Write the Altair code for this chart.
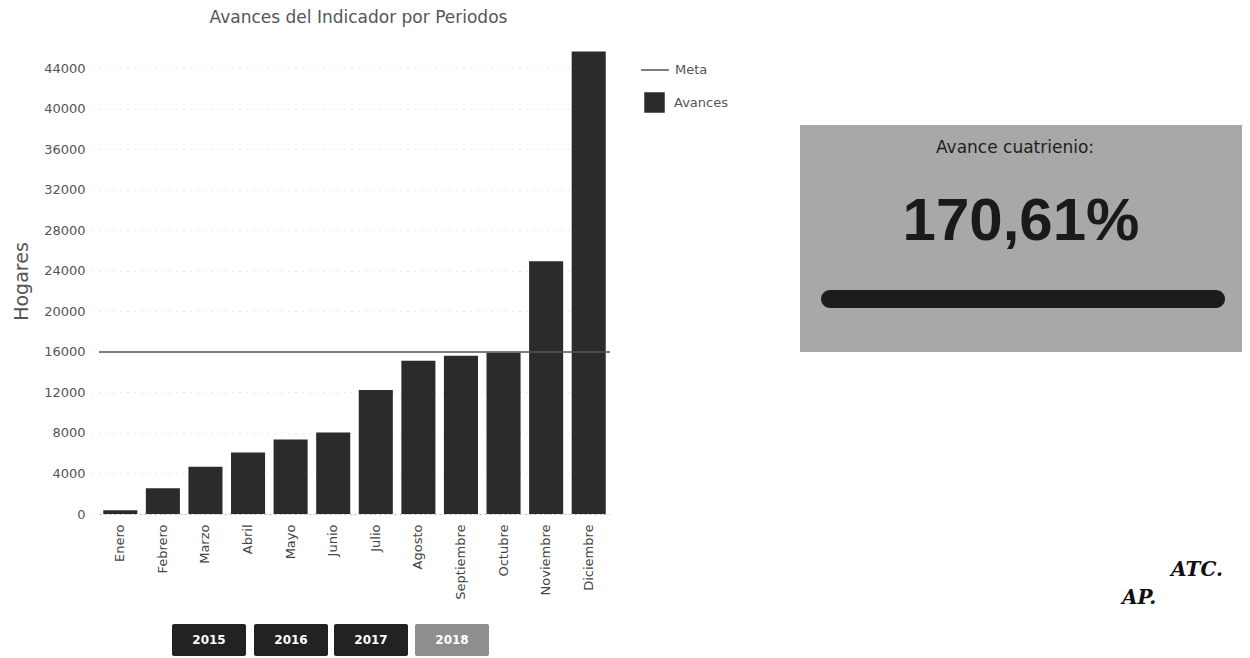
import altair as alt
import pandas as pd

# ---- data ----
meses = ["Enero", "Febrero", "Marzo", "Abril", "Mayo", "Junio", "Julio",
         "Agosto", "Septiembre", "Octubre", "Noviembre", "Diciembre"]
avances = [380, 2530, 4660, 6080, 7360, 8050, 12230, 15120, 15610, 15910, 24950, 45660]
meta = 16000
y_ticks = [0, 4000, 8000, 12000, 16000, 20000, 24000, 28000, 32000, 36000, 40000, 44000]
anios = ["2015", "2016", "2017", "2018"]
anio_activo = "2018"
panel_titulo = "Avance cuatrienio:"
panel_valor = "170,61%"
panel_pct = 170.61
firmas = ["ATC.", "AP."]

# ---- tables ----
df = pd.DataFrame({"Mes": meses, "Valor": avances, "Serie": ["Avances"] * len(meses)})
df_meta = pd.DataFrame({"Valor": [meta], "Serie": ["Meta"]})
df_panel = pd.DataFrame({"titulo": [panel_titulo], "valor": [panel_valor], "pct": [panel_pct]})

FONT = "DejaVu Sans"
W, H = 511, 466

x_enc = alt.X("Mes:N", sort=meses,
              scale=alt.Scale(paddingInner=0.2, paddingOuter=0.1),
              axis=alt.Axis(title=None, labelAngle=-90, labelFont=FONT, labelFontSize=13,
                            labelColor="#444", ticks=False, labelPadding=10,
                            domain=True, domainColor="#bbbbbb", domainDash=[2, 3]))
y_enc = alt.Y("Valor:Q", scale=alt.Scale(domain=[0, 46000], nice=False),
              axis=alt.Axis(values=y_ticks, format="d", grid=True, gridColor="#d2d2d2",
                            gridDash=[1, 6], domain=False, ticks=False, labelPadding=14,
                            labelFont=FONT, labelFontSize=13, labelColor="#555",
                            title="Hogares", titleFont=FONT, titleFontSize=19,
                            titleFontWeight="normal", titleColor="#555", titlePadding=12))

bars = alt.Chart(df).mark_bar().encode(
    x=x_enc, y=y_enc,
    color=alt.Color("Serie:N", scale=alt.Scale(domain=["Avances"], range=["#2b2b2b"]),
                    legend=alt.Legend(title=None, orient="none", legendX=545, legendY=44,
                                      padding=0, symbolType="square", symbolSize=420,
                                      symbolStrokeWidth=0, labelOffset=9, labelFont=FONT,
                                      labelFontSize=13, labelColor="#555")),
)

meta_rule = alt.Chart(df_meta).mark_rule(color="#555555", strokeWidth=1.5).encode(
    y=alt.Y("Valor:Q"),
    strokeDash=alt.StrokeDash("Serie:N", scale=alt.Scale(domain=["Meta"], range=[[1, 0]]),
                              legend=alt.Legend(title=None, orient="none", legendX=541, legendY=7,
                                                padding=0, symbolType="stroke", symbolSize=784,
                                                symbolStrokeColor="#555555", symbolStrokeWidth=1.5,
                                                labelOffset=5, labelFont=FONT, labelFontSize=13,
                                                labelColor="#555")),
)

# ---- right panel ----
box = alt.Chart(df_panel).mark_rect(color="#a8a8a8").encode(
    x=alt.value(701), x2=alt.value(1160), y=alt.value(77), y2=alt.value(304))
p_title = alt.Chart(df_panel).mark_text(font=FONT, fontSize=17, color="#1e1e1e",
                                        align="center", baseline="middle").encode(
    text="titulo:N", x=alt.value(916), y=alt.value(100))
p_value = alt.Chart(df_panel).mark_text(font="Liberation Sans", fontSize=60, fontWeight="bold",
                                        color="#1a1a1a", align="center", baseline="middle").encode(
    text="valor:N", x=alt.value(922), y=alt.value(174))
bar_x0, bar_len = 722, 404
bar_x1 = bar_x0 + bar_len * min(panel_pct, 100) / 100
p_bar = alt.Chart(df_panel).mark_rect(color="#1c1c1c", cornerRadius=9).encode(
    x=alt.value(bar_x0), x2=alt.value(bar_x1), y=alt.value(242), y2=alt.value(260))

# ---- year buttons ----
boton_x = [73, 155, 235, 316]
boton_w = 74
layers = [bars, meta_rule, box, p_title, p_value, p_bar]
for i, a in enumerate(anios):
    dfa = pd.DataFrame({"anio": [a]})
    fill = "#8e8e8e" if a == anio_activo else "#222222"
    layers.append(alt.Chart(dfa).mark_rect(color=fill, cornerRadius=2).encode(
        x=alt.value(boton_x[i]), x2=alt.value(boton_x[i] + boton_w),
        y=alt.value(576), y2=alt.value(608)))
    layers.append(alt.Chart(dfa).mark_text(font=FONT, fontSize=12, fontWeight="bold",
                                           color="#ffffff", align="center", baseline="middle").encode(
        text="anio:N", x=alt.value(boton_x[i] + boton_w / 2), y=alt.value(592)))

# ---- handwritten initials ----
firma_pos = [(1098, 522), (1040, 550)]
for f, (fx, fy) in zip(firmas, firma_pos):
    layers.append(alt.Chart(pd.DataFrame({"t": [f]})).mark_text(
        font="DejaVu Serif", fontSize=20, fontStyle="italic", fontWeight="bold",
        color="#111111", align="center", baseline="middle").encode(
        text="t:N", x=alt.value(fx), y=alt.value(fy)))

chart = alt.layer(*layers).properties(
    width=W, height=H,
    title=alt.TitleParams("Avances del Indicador por Periodos", font=FONT, fontSize=17,
                          fontWeight="normal", color="#555", offset=21, anchor="middle", dx=4),
    autosize=alt.AutoSizeParams(type="none"),
    padding={"left": 91, "top": 40, "right": 632, "bottom": 144},
    background="#ffffff",
).configure_view(stroke=None)

chart.save("out.html", embed_options={"renderer": "svg", "actions": False})
